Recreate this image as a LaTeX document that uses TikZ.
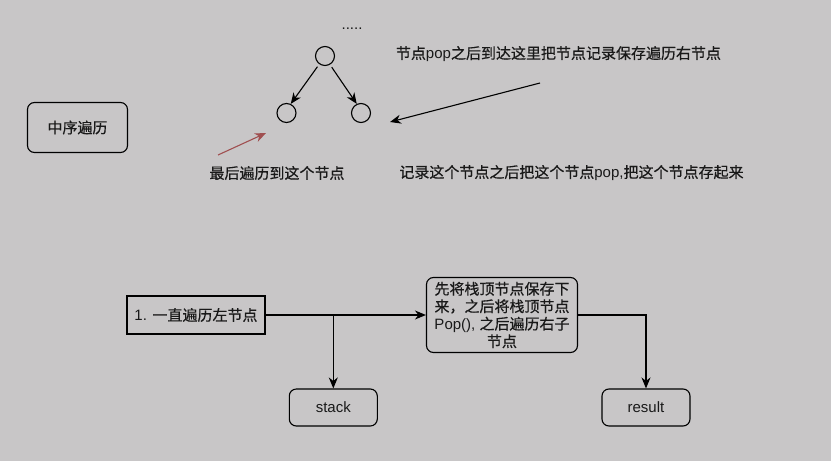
\documentclass[tikz,border=0pt]{standalone}
\usepackage{fontspec}
\setmainfont{Liberation Sans}
\newfontfamily\cjk[FakeBold=0.6]{Noto Sans CJK SC}
\usetikzlibrary{arrows.meta}
\definecolor{bgcol}{HTML}{C8C6C7}
\definecolor{redarr}{HTML}{A04F50}
\begin{document}
\begin{tikzpicture}[x=1pt,y=-1pt,
  every node/.style={font=\fontsize{15}{17.5}\selectfont, inner sep=0pt, text=black!90},
  circ/.style={draw, circle, minimum size=19pt, line width=1.1pt},
  arr/.style={-{Stealth[length=11pt,width=9pt,inset=3.5pt]}, line width=1.1pt},
  rbox/.style={draw, rounded corners=7pt, line width=1.1pt, align=center},
  sbox/.style={draw, line width=1.1pt, align=center}]
\fill[bgcol] (0,0) rectangle (831,461);
\useasboundingbox (0,0) rectangle (831,461);

% tree
\node (dots) at (352,29) {.....};
\node[circ] (top) at (325,56) {};
\node[circ] (left) at (286.5,113) {};
\node[circ] (right) at (361,113) {};
\draw[arr, shorten <=3pt] (top.235) -- (left.65);
\draw[arr, shorten <=3pt] (top.300) -- (right.115);

% annotations
\node (t1) at (558.5,54) {{\cjk 节点}pop{\cjk 之后到达这里把节点记录保存遍历右节点}};
\node (t2) at (277,173) {\cjk 最后遍历到这个节点};
\node (t3) at (571.5,173) {{\cjk 记录这个节点之后把这个节点}pop,{\cjk 把这个节点存起来}};
\coordinate (a1s) at (540,83);
\coordinate (a1e) at (390,122);
\draw[arr] (a1s) -- (a1e);
\coordinate (a2s) at (218,155);
\coordinate (a2e) at (266,133);
\draw[arr, redarr] (a2s) -- (a2e);

\node[rbox, minimum width=100pt, minimum height=50pt] (title) at (77.5,127.5) {\cjk 中序遍历};

% bottom flow
\node[sbox, minimum width=138pt, minimum height=38pt] (leftbox) at (196,315) {1. {\cjk 一直遍历左节点}};
\node[rbox, minimum width=151pt, minimum height=75pt] (mid) at (502,315)
  {{\cjk 先将栈顶节点保存下}\\{\cjk 来，之后将栈顶节点}\\Pop(), {\cjk 之后遍历右子}\\{\cjk 节点}};
\node[rbox, minimum width=88pt, minimum height=37pt] (stack) at (333.3,407.5) {stack};
\node[rbox, minimum width=88pt, minimum height=37pt] (result) at (646,407.5) {result};

\draw[arr] (leftbox) -- (mid);
\draw[arr] (stack |- leftbox) -- (stack);
\draw[arr] (mid.east) -| (result);
\end{tikzpicture}
\end{document}
